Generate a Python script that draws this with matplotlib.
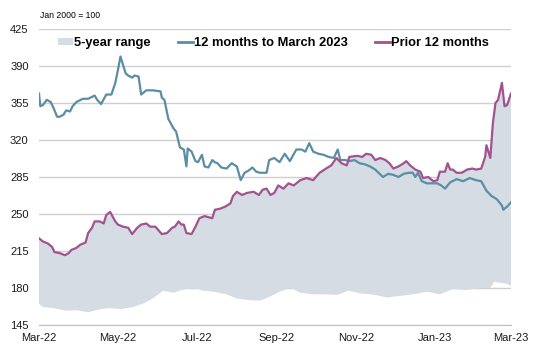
import matplotlib
matplotlib.use("Agg")
import matplotlib.pyplot as plt
import matplotlib.dates as mdates
from matplotlib.lines import Line2D
from matplotlib.patches import Patch
import numpy as np
import pandas as pd

plt.rcParams["font.family"] = ["Liberation Sans", "DejaVu Sans"]

# 12 months to March 2023 (index, Jan 2000 = 100)
current_dates = [
    "2022-03-01", "2022-03-02", "2022-03-04", "2022-03-07", "2022-03-10", "2022-03-12",
    "2022-03-15", "2022-03-17", "2022-03-20", "2022-03-22", "2022-03-25", "2022-03-27",
    "2022-03-30", "2022-04-04", "2022-04-08", "2022-04-13", "2022-04-15", "2022-04-18",
    "2022-04-22", "2022-04-26", "2022-04-29", "2022-05-01", "2022-05-03", "2022-05-07",
    "2022-05-09", "2022-05-12", "2022-05-14", "2022-05-17", "2022-05-19", "2022-05-23",
    "2022-05-28", "2022-06-03", "2022-06-04", "2022-06-06", "2022-06-09", "2022-06-13",
    "2022-06-15", "2022-06-18", "2022-06-21", "2022-06-23", "2022-06-24", "2022-06-27",
    "2022-06-30", "2022-07-02", "2022-07-05", "2022-07-07", "2022-07-10", "2022-07-13",
    "2022-07-15", "2022-07-17", "2022-07-20", "2022-07-24", "2022-07-28", "2022-08-01",
    "2022-08-04", "2022-08-07", "2022-08-10", "2022-08-13", "2022-08-16", "2022-08-19",
    "2022-08-24", "2022-08-26", "2022-08-30", "2022-09-03", "2022-09-07", "2022-09-11",
    "2022-09-16", "2022-09-20", "2022-09-23", "2022-09-26", "2022-09-29", "2022-10-03",
    "2022-10-07", "2022-10-11", "2022-10-15", "2022-10-18", "2022-10-20", "2022-10-24",
    "2022-10-27", "2022-10-31", "2022-11-04", "2022-11-08", "2022-11-12", "2022-11-16",
    "2022-11-22", "2022-11-26", "2022-11-30", "2022-12-04", "2022-12-08", "2022-12-12",
    "2022-12-15", "2022-12-17", "2022-12-19", "2022-12-22", "2022-12-26", "2022-12-30",
    "2023-01-03", "2023-01-06", "2023-01-09", "2023-01-13", "2023-01-18", "2023-01-23",
    "2023-01-28", "2023-02-02", "2023-02-06", "2023-02-10", "2023-02-14", "2023-02-18",
    "2023-02-22", "2023-02-23", "2023-02-26", "2023-03-01",
]
current_values = [
    364, 352, 353, 358, 356, 351, 342, 342, 344, 348, 347, 352,
    356, 359, 359, 362, 358, 354, 363, 363, 374, 386, 399, 383,
    381, 379, 381, 380, 363, 367, 367, 366, 360, 358, 340, 331,
    328, 313, 311, 295, 312, 309, 300, 299, 306, 295, 294, 301,
    299, 298, 294, 293, 298, 295, 282, 289, 291, 294, 290, 289,
    289, 301, 303, 299, 307, 300, 311, 311, 309, 317, 309, 307,
    306, 304, 303, 311, 301, 301, 300, 301, 298, 297, 295, 292,
    285, 288, 287, 285, 288, 289, 289, 285, 289, 281, 279, 279,
    279, 277, 274, 280, 283, 281, 284, 282, 281, 272, 267, 264,
    258, 254, 257, 261,
]

# Prior 12 months
prior_dates = [
    "2022-03-01", "2022-03-04", "2022-03-08", "2022-03-11", "2022-03-13", "2022-03-17",
    "2022-03-21", "2022-03-24", "2022-03-26", "2022-03-30", "2022-04-02", "2022-04-06",
    "2022-04-08", "2022-04-11", "2022-04-13", "2022-04-17", "2022-04-20", "2022-04-22",
    "2022-04-25", "2022-04-29", "2022-05-01", "2022-05-05", "2022-05-09", "2022-05-12",
    "2022-05-16", "2022-05-19", "2022-05-23", "2022-05-26", "2022-05-30", "2022-06-04",
    "2022-06-08", "2022-06-12", "2022-06-14", "2022-06-17", "2022-06-19", "2022-06-21",
    "2022-06-23", "2022-06-27", "2022-06-30", "2022-07-03", "2022-07-07", "2022-07-13",
    "2022-07-15", "2022-07-19", "2022-07-23", "2022-07-27", "2022-07-29", "2022-08-01",
    "2022-08-05", "2022-08-09", "2022-08-14", "2022-08-18", "2022-08-21", "2022-08-24",
    "2022-08-27", "2022-08-30", "2022-09-02", "2022-09-06", "2022-09-10", "2022-09-14",
    "2022-09-19", "2022-09-24", "2022-09-29", "2022-10-04", "2022-10-09", "2022-10-13",
    "2022-10-17", "2022-10-21", "2022-10-25", "2022-10-27", "2022-11-02", "2022-11-06",
    "2022-11-09", "2022-11-13", "2022-11-16", "2022-11-20", "2022-11-24", "2022-11-27",
    "2022-11-30", "2022-12-04", "2022-12-08", "2022-12-10", "2022-12-13", "2022-12-17",
    "2022-12-21", "2022-12-23", "2022-12-27", "2022-12-31", "2023-01-03", "2023-01-05",
    "2023-01-09", "2023-01-11", "2023-01-13", "2023-01-15", "2023-01-18", "2023-01-22",
    "2023-01-26", "2023-01-30", "2023-02-02", "2023-02-06", "2023-02-09", "2023-02-10",
    "2023-02-13", "2023-02-15", "2023-02-17", "2023-02-19", "2023-02-22", "2023-02-24",
    "2023-02-26", "2023-03-01",
]
prior_values = [
    227, 224, 222, 219, 214, 213, 211, 213, 216, 218, 221, 223,
    232, 237, 243, 243, 241, 249, 252, 243, 240, 238, 237, 231,
    237, 240, 241, 238, 238, 231, 232, 237, 238, 243, 240, 240,
    232, 231, 238, 246, 248, 246, 254, 255, 257, 260, 267, 271,
    268, 270, 271, 268, 273, 274, 268, 270, 277, 274, 279, 277,
    282, 284, 282, 289, 293, 296, 303, 298, 296, 304, 305, 304,
    307, 306, 301, 303, 301, 298, 293, 295, 298, 300, 296, 292,
    290, 284, 285, 281, 282, 290, 290, 298, 292, 292, 289, 289,
    292, 293, 292, 293, 304, 315, 303, 336, 355, 358, 374, 352,
    353, 364,
]

# Bottom of the 5-year range (top of the range follows the prior 12 months)
range_low_dates = [
    "2022-03-01", "2022-03-04", "2022-03-12", "2022-03-22", "2022-03-30", "2022-04-08",
    "2022-04-17", "2022-04-25", "2022-05-03", "2022-05-13", "2022-05-21", "2022-05-28",
    "2022-06-05", "2022-06-13", "2022-06-19", "2022-06-28", "2022-07-06", "2022-07-14",
    "2022-07-24", "2022-08-01", "2022-08-11", "2022-08-19", "2022-08-27", "2022-09-03",
    "2022-09-12", "2022-09-19", "2022-09-29", "2022-10-09", "2022-10-18", "2022-10-26",
    "2022-11-04", "2022-11-16", "2022-11-25", "2022-12-05", "2022-12-15", "2022-12-26",
    "2023-01-05", "2023-01-15", "2023-01-26", "2023-02-05", "2023-02-13", "2023-02-16",
    "2023-02-20", "2023-02-26", "2023-03-01",
]
range_low_values = [
    165, 162, 161, 158.5, 159, 157, 160, 161, 160, 162, 165.5, 170,
    177.5, 175.5, 178, 180, 177.5, 176.5, 174, 170, 168.5, 168, 172, 176.5,
    180, 175.5, 174, 174, 173.5, 177.5, 175, 173.5, 171, 172.5, 174, 176.5,
    174, 179, 178, 180, 180, 186, 185, 184, 182,
]

y_ticks = [145, 180, 215, 250, 285, 320, 355, 390, 425]
x_ticks = ["2022-03-01", "2022-05-01", "2022-07-01", "2022-09-01",
           "2022-11-01", "2023-01-01", "2023-03-01"]
x_labels = ["Mar-22", "May-22", "Jul-22", "Sep-22", "Nov-22", "Jan-23", "Mar-23"]

TEAL = "#5b8ea3"
PURPLE = "#a3528f"
SHADE = "#d6dce4"
GRID = "#cfcfcf"

cur_x = mdates.date2num(pd.to_datetime(current_dates))
prior_x = mdates.date2num(pd.to_datetime(prior_dates))
low_x = mdates.date2num(pd.to_datetime(range_low_dates))

fig = plt.figure(figsize=(5.33, 3.48), dpi=100)
ax = fig.add_axes([39 / 533, 1 - 325 / 348, 472 / 533, 296 / 348])

# shaded band: prior 12 months on top, 5-year low underneath
poly_x = np.concatenate([prior_x, low_x[::-1]])
poly_y = np.concatenate([prior_values, range_low_values[::-1]])
ax.fill(poly_x, poly_y, color=SHADE, lw=0, zorder=1)

ax.plot(cur_x, current_values, color=TEAL, lw=1.6, zorder=3)
ax.plot(prior_x, prior_values, color=PURPLE, lw=1.6, zorder=4)

ax.set_ylim(y_ticks[0], y_ticks[-1])
ax.set_yticks(y_ticks)
ax.set_xlim(mdates.date2num(pd.to_datetime(x_ticks[0])),
            mdates.date2num(pd.to_datetime(x_ticks[-1])))
ax.set_xticks(mdates.date2num(pd.to_datetime(x_ticks)))
ax.set_xticklabels(x_labels)

ax.grid(axis="y", color=GRID, lw=1, zorder=0)
ax.set_axisbelow(True)
for side in ["top", "right", "left"]:
    ax.spines[side].set_visible(False)
ax.spines["bottom"].set_color("#bfbfbf")
ax.tick_params(axis="y", length=0, labelsize=8, pad=7.5, colors="#1a1a1a")
ax.tick_params(axis="x", length=0, labelsize=8, pad=5.5, colors="#1a1a1a")

fig.text(40 / 533, 1 - 15 / 348, "Jan 2000 = 100", fontsize=6.2, va="center")

handles = [
    Patch(facecolor=SHADE, edgecolor="none"),
    Line2D([], [], color=TEAL, lw=2),
    Line2D([], [], color=PURPLE, lw=2),
]
labels = ["5-year range", "12 months to March 2023", "Prior 12 months"]
fig.legend(handles, labels, loc="center left", bbox_to_anchor=(58 / 533, 1 - 43 / 348),
           ncol=3, frameon=False, prop={"weight": "bold", "size": 9.3},
           handlelength=1.15, handleheight=0.5, handletextpad=0.1,
           columnspacing=2.1, borderaxespad=0, borderpad=0)

fig.savefig("out.png", dpi=100)
